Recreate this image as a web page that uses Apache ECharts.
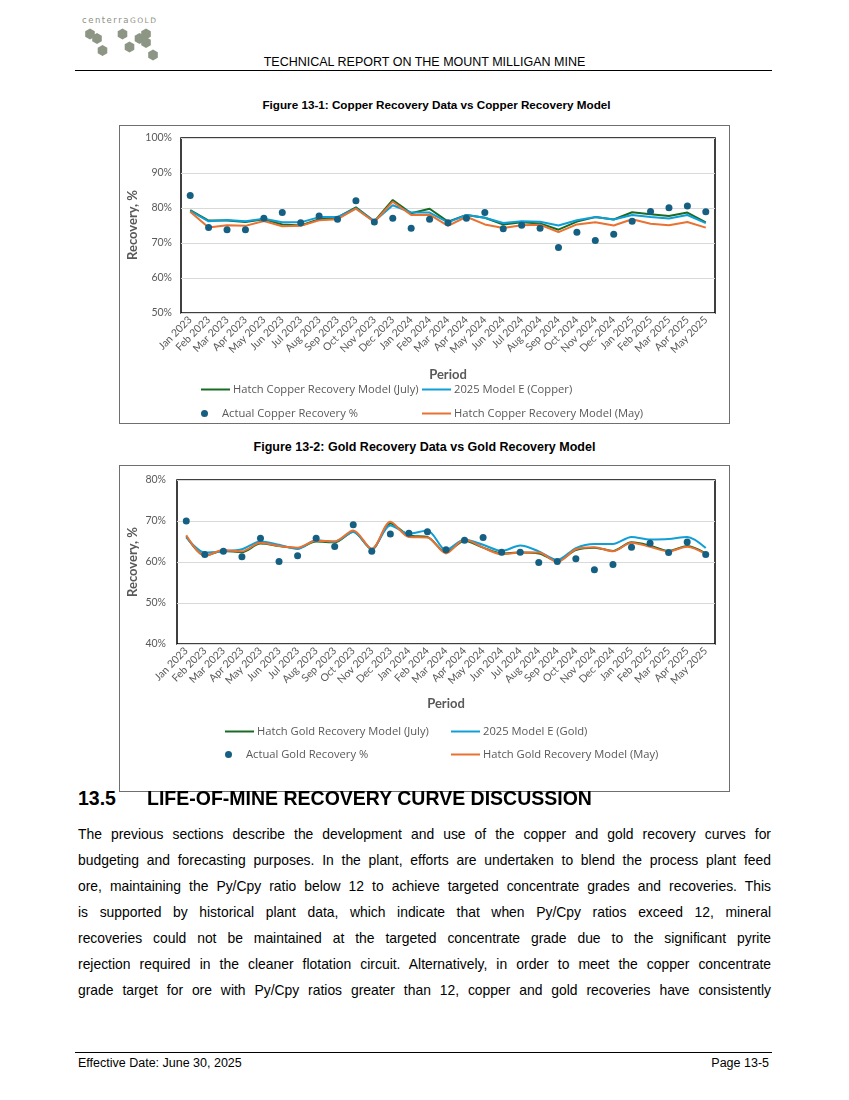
<!DOCTYPE html>
<html>
<head>
<meta charset="utf-8">
<script src="https://cdn.jsdelivr.net/npm/echarts@6/dist/echarts.min.js"></script>
<style>
  body { margin: 0; background: #fff; }
  .page { position: relative; width: 849px; height: 1100px; background: #fff; font-family: "Liberation Sans", Arial, sans-serif; color: #000; }
  .abs { position: absolute; white-space: nowrap; }
  .rule { position: absolute; left: 75px; width: 697px; height: 0; border-top: 1px solid #000; }
  .figtitle { position: absolute; width: 611px; text-align: center; font-weight: bold; line-height: 15px; }
  .chartbox { position: absolute; left: 119px; width: 611px; border: 1px solid #6f6f6f; box-sizing: border-box; }
  .pline { position: absolute; left: 78px; width: 693px; font-size: 13.9px; line-height: 26px; text-align: justify; text-align-last: justify; white-space: nowrap; }
</style>
</head>
<body>
<div class="page">
  <svg id="logo" class="abs" style="left:0;top:0" width="200" height="70"></svg>
  <div class="abs" style="left:82px;top:15px;font-family:'DejaVu Sans';font-size:8.5px;letter-spacing:1.5px;color:#8b9282;line-height:10px">centerra<span style="font-size:7.5px">GOLD</span></div>
  <div class="abs" style="left:0;width:849px;text-align:center;top:54px;font-size:12.5px;line-height:16px">TECHNICAL REPORT ON THE MOUNT MILLIGAN MINE</div>
  <div class="rule" style="top:70px"></div>

  <div class="figtitle" style="left:131px;top:97px;font-size:11.7px">Figure 13-1: Copper Recovery Data vs Copper Recovery Model</div>
  <div id="cu" class="chartbox" style="top:125px;height:299px"></div>

  <div class="figtitle" style="left:119px;top:440px;font-size:12.5px">Figure 13-2: Gold Recovery Data vs Gold Recovery Model</div>
  <div id="au" class="chartbox" style="top:465px;height:327px"></div>

  <div class="abs" style="left:78px;top:786px;font-size:19.5px;line-height:24px;font-weight:bold">13.5</div>
  <div class="abs" style="left:147px;top:786px;font-size:19.5px;line-height:24px;font-weight:bold">LIFE-OF-MINE RECOVERY CURVE DISCUSSION</div>

  <div class="pline" style="top:821px">The previous sections describe the development and use of the copper and gold recovery curves for</div>
  <div class="pline" style="top:847px">budgeting and forecasting purposes. In the plant, efforts are undertaken to blend the process plant feed</div>
  <div class="pline" style="top:873px">ore, maintaining the Py/Cpy ratio below 12 to achieve targeted concentrate grades and recoveries. This</div>
  <div class="pline" style="top:899px">is supported by historical plant data, which indicate that when Py/Cpy ratios exceed 12, mineral</div>
  <div class="pline" style="top:925px">recoveries could not be maintained at the targeted concentrate grade due to the significant pyrite</div>
  <div class="pline" style="top:951px">rejection required in the cleaner flotation circuit. Alternatively, in order to meet the copper concentrate</div>
  <div class="pline" style="top:977px">grade target for ore with Py/Cpy ratios greater than 12, copper and gold recoveries have consistently</div>

  <div class="rule" style="top:1052px"></div>
  <div class="abs" style="left:78px;top:1056px;font-size:12.5px;line-height:15px">Effective Date: June 30, 2025</div>
  <div class="abs" style="right:80px;top:1056px;font-size:12.5px;line-height:15px">Page 13-5</div>
</div>

<script>
// months on the x axis
var periods = ['Jan 2023','Feb 2023','Mar 2023','Apr 2023','May 2023','Jun 2023','Jul 2023','Aug 2023','Sep 2023','Oct 2023','Nov 2023','Dec 2023',
  'Jan 2024','Feb 2024','Mar 2024','Apr 2024','May 2024','Jun 2024','Jul 2024','Aug 2024','Sep 2024','Oct 2024','Nov 2024','Dec 2024',
  'Jan 2025','Feb 2025','Mar 2025','Apr 2025','May 2025'];

// copper recovery, %
var cuHatchJuly = [79.4,76.4,76.4,76.0,76.8,75.3,75.0,76.8,77.3,80.2,76.2,82.3,78.5,79.8,76.1,78.0,77.2,75.3,75.9,75.6,73.8,76.1,77.4,76.7,78.8,78.2,77.7,78.7,75.9];
var cuModelE    = [79.2,76.2,76.6,76.2,76.9,75.9,75.9,77.4,77.4,79.9,76.2,80.8,78.7,78.7,75.9,78.0,77.2,75.7,76.2,76.1,75.0,76.5,77.4,76.7,78.0,77.4,77.0,78.0,75.7];
var cuActual    = [83.6,74.4,73.8,73.8,77.1,78.7,75.8,77.7,76.8,82.1,76.0,77.1,74.2,76.8,75.8,77.1,78.7,74.1,75.1,74.2,68.7,73.1,70.7,72.5,76.2,79.0,80.1,80.6,78.9];
var cuHatchMay  = [78.9,74.4,75.1,74.9,76.3,74.8,74.9,76.5,76.8,79.8,76.0,81.8,78.0,78.1,74.9,77.5,75.3,74.3,75.1,75.2,73.1,75.3,75.9,75.0,76.8,75.5,75.1,76.0,74.4];

// gold recovery, %
var auHatchJuly = [66.3,61.6,62.7,62.4,64.5,63.9,63.4,65.0,64.8,67.4,63.1,69.4,66.5,66.1,62.4,65.2,63.5,62.1,62.3,62.1,60.3,62.9,63.5,62.7,64.8,64.0,62.7,63.9,62.1];
var auModelE    = [66.0,62.3,62.6,63.1,65.0,64.2,63.2,65.3,65.0,67.3,63.2,68.9,66.9,67.7,62.9,65.5,64.2,62.7,64.0,62.6,60.5,63.4,64.4,64.4,66.1,65.5,65.6,66.1,63.4];
var auActual    = [70.0,61.8,62.6,61.3,65.8,60.1,61.5,65.8,63.8,69.1,62.6,66.8,67.0,67.4,63.0,65.3,66.0,62.4,62.4,59.9,60.1,60.8,58.1,59.4,63.6,64.6,62.3,64.9,61.8];
var auHatchMay  = [66.5,61.5,62.9,62.6,64.7,63.9,63.5,65.2,65.0,67.7,63.2,69.8,66.1,66.0,62.1,65.5,63.5,61.9,62.3,62.3,60.0,63.1,63.6,62.6,64.7,63.7,62.6,63.7,61.9];

var GREEN = '#196B24', BLUE = '#0F9ED5', DOT = '#156082', ORANGE = '#E97132';
var GREY = '#595959';
var FONT = 'Lato';

// logo hexagons
(function () {
  var c = [[90,34],[97,38.5],[122.5,34],[139.5,38.5],[146,34],[146,42.5],[102.5,50.5],[129.5,47],[153,55]];
  var s = '';
  c.forEach(function (p) {
    var pts = [];
    for (var k = 0; k < 6; k++) {
      var a = Math.PI / 3 * k + Math.PI / 6;
      pts.push((p[0] + 5.6 * Math.cos(a)).toFixed(1) + ',' + (p[1] + 5.6 * Math.sin(a)).toFixed(1));
    }
    s += '<polygon points="' + pts.join(' ') + '" fill="#8d9685"/>';
  });
  document.getElementById('logo').innerHTML = s;
})();

function legendItem(name, icon, left, top) {
  return {
    data: [{ name: name, icon: icon }],
    left: left, top: top, padding: 0,
    itemWidth: 29, itemHeight: icon == 'circle' ? 7 : 2,
    textStyle: { fontFamily: 'Open Sans', fontSize: 11.2, color: GREY, padding: [0, 0, 0, -2] }
  };
}

function buildChart(el, names, lines, cfg) {
  var chart = echarts.init(document.getElementById(el));
  function line(name, data, color) {
    return {
      name: name, type: 'line', data: data, smooth: cfg.smooth,
      symbol: 'none', lineStyle: { color: color, width: 2 }, itemStyle: { color: color }
    };
  }
  chart.setOption({
    animation: false,
    grid: { left: cfg.grid[0], top: cfg.grid[1], right: cfg.grid[2], bottom: cfg.grid[3],
      containLabel: false, outerBoundsMode: 'none',
      show: true, borderColor: '#000', borderWidth: 1.5, backgroundColor: 'transparent' },
    // y axis title, placed by hand so it sits where the original has it
    graphic: [{
      type: 'text', x: cfg.yName[0], y: cfg.yName[1], rotation: Math.PI / 2,
      style: { text: 'Recovery, %', align: 'center', verticalAlign: 'middle',
        font: 'bold 13px Lato', fill: GREY }
    }],
    xAxis: {
      type: 'category', data: periods, boundaryGap: true,
      name: 'Period', nameLocation: 'middle', nameGap: cfg.xNameGap,
      nameTextStyle: { fontFamily: FONT, fontSize: 13, fontWeight: 'bold', color: GREY },
      axisLine: { show: false }, axisTick: { show: false },
      axisLabel: { interval: 0, rotate: 45, margin: 5, fontFamily: FONT, fontSize: 10.5, color: GREY }
    },
    yAxis: {
      type: 'value', min: cfg.yMin, max: cfg.yMax, interval: 10,
      axisLine: { show: false }, axisTick: { show: false },
      axisLabel: { formatter: '{value}%', margin: cfg.yLabelMargin, fontFamily: FONT, fontSize: 10.5, color: GREY },
      splitLine: { lineStyle: { color: '#d9d9d9', width: 1 } }
    },
    legend: [
      legendItem(names[0], 'rect', cfg.leg[0], cfg.leg[2]),
      legendItem(names[1], 'rect', cfg.leg[1], cfg.leg[2]),
      legendItem(names[2], 'circle', cfg.leg[0], cfg.leg[3]),
      legendItem(names[3], 'rect', cfg.leg[1], cfg.leg[3])
    ],
    series: [
      line(names[0], lines[0], GREEN),
      line(names[1], lines[1], BLUE),
      line(names[3], lines[3], ORANGE),
      { name: names[2], type: 'scatter', data: lines[2], symbol: 'circle', symbolSize: 7,
        itemStyle: { color: DOT, opacity: 1 }, z: 5 }
    ]
  });
}

buildChart('cu',
  ['Hatch Copper Recovery Model (July)', '2025 Model E (Copper)', 'Actual Copper Recovery %', 'Hatch Copper Recovery Model (May)'],
  [cuHatchJuly, cuModelE, cuActual, cuHatchMay],
  { grid: [61, 12, 14, 110], yMin: 50, yMax: 100, xNameGap: 55, yName: [13, 99], yLabelMargin: 9, smooth: false, leg: [81, 302, 258, 282] });

buildChart('au',
  ['Hatch Gold Recovery Model (July)', '2025 Model E (Gold)', 'Actual Gold Recovery %', 'Hatch Gold Recovery Model (May)'],
  [auHatchJuly, auModelE, auActual, auHatchMay],
  { grid: [57, 14, 14, 147], yMin: 40, yMax: 80, xNameGap: 53, yName: [13, 96], yLabelMargin: 11, smooth: 0.3, leg: [105, 331, 260, 283] });
</script>
</body>
</html>
